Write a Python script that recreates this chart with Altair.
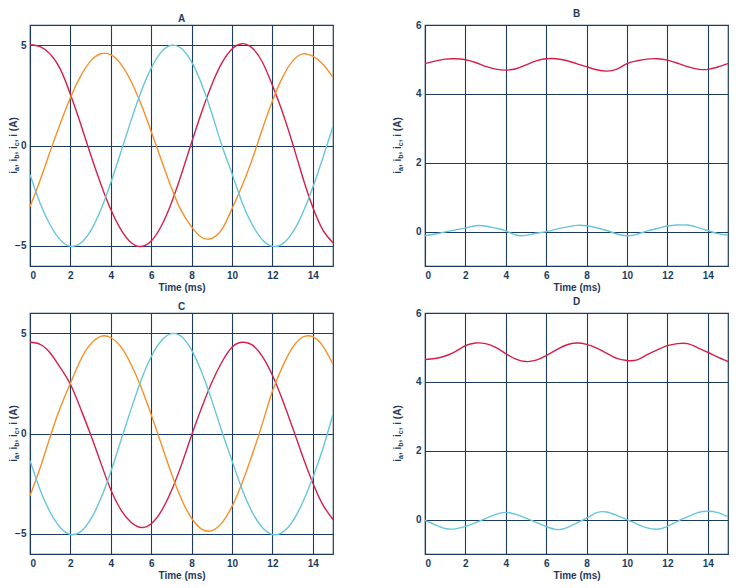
import altair as alt
import pandas as pd

# ---------------- data ----------------
time_ms = [0, 0.5, 1, 1.5, 2, 2.5, 3, 3.5, 4, 4.5, 5, 5.5, 6, 6.5, 7, 7.5,
           8, 8.5, 9, 9.5, 10, 10.5, 11, 11.5, 12, 12.5, 13, 13.5, 14, 14.5, 15]

a_ia = [5.02, 4.92, 4.55, 3.80, 2.55, 1.10, -0.45, -1.90, -3.19, -4.19, -4.83, -5.03, -4.76, -4.01, -2.86, -1.42,
        0.15, 1.67, 3.03, 4.11, 4.81, 5.07, 4.85, 4.16, 3.00, 1.66, 0.10, -1.58, -3.08, -4.21, -4.84]
a_ib = [-3.05, -1.73, -0.29, 1.10, 2.38, 3.44, 4.20, 4.57, 4.52, 4.05, 3.20, 2.05, 0.70, -0.72, -2.10, -3.27,
        -4.05, -4.58, -4.62, -4.18, -3.15, -2.00, -0.69, 0.81, 2.22, 3.39, 4.20, 4.56, 4.45, 4.05, 3.40]
a_ic = [-1.45, -2.87, -3.96, -4.70, -5.02, -4.87, -4.25, -3.21, -1.85, -0.32, 1.24, 2.68, 3.85, 4.65, 4.99, 4.83,
        4.16, 3.05, 1.61, 0.00, -1.40, -2.84, -3.94, -4.69, -5.02, -4.90, -4.33, -3.36, -2.08, -0.61, 0.95]

b_i = [4.88, 4.95, 5.01, 5.02, 4.99, 4.91, 4.80, 4.72, 4.69, 4.73, 4.84, 4.96, 5.02, 5.02, 4.97, 4.88,
       4.79, 4.70, 4.66, 4.72, 4.88, 4.96, 5.01, 5.02, 4.98, 4.89, 4.79, 4.72, 4.71, 4.78, 4.88]
b_sum = [-0.12, -0.07, -0.01, 0.05, 0.10, 0.17, 0.16, 0.10, 0.02, -0.10, -0.11, -0.05, 0.00, 0.07, 0.13, 0.18,
         0.17, 0.11, 0.03, -0.07, -0.12, -0.08, 0.02, 0.09, 0.16, 0.19, 0.19, 0.12, 0.03, -0.06, -0.10]

c_ia = [4.54, 4.44, 4.01, 3.28, 2.45, 1.25, -0.05, -1.45, -2.80, -3.80, -4.42, -4.68, -4.49, -3.86, -2.85, -1.55,
        -0.09, 1.29, 2.54, 3.56, 4.30, 4.54, 4.41, 3.84, 2.90, 1.67, 0.29, -1.14, -2.46, -3.55, -4.28]
c_ib = [-3.10, -1.72, -0.16, 1.29, 2.50, 3.65, 4.45, 4.84, 4.78, 4.31, 3.45, 2.30, 0.94, -0.52, -1.99, -3.27,
        -4.22, -4.76, -4.84, -4.45, -3.63, -2.46, -1.06, 0.48, 2.10, 3.33, 4.29, 4.80, 4.82, 4.35, 3.45]
c_ic = [-1.35, -2.80, -3.92, -4.68, -5.03, -4.90, -4.28, -3.25, -1.90, -0.35, 1.20, 2.65, 3.82, 4.62, 4.97, 4.83,
        4.15, 3.05, 1.65, 0.10, -1.35, -2.78, -3.92, -4.68, -5.03, -4.92, -4.38, -3.42, -2.20, -0.75, 0.95]

d_i = [4.65, 4.68, 4.75, 4.88, 5.05, 5.13, 5.11, 5.00, 4.82, 4.66, 4.59, 4.63, 4.76, 4.93, 5.07, 5.13,
       5.09, 4.98, 4.83, 4.68, 4.62, 4.64, 4.79, 4.93, 5.05, 5.11, 5.11, 4.99, 4.86, 4.72, 4.59]
d_sum = [-0.02, -0.15, -0.26, -0.27, -0.20, -0.09, 0.03, 0.15, 0.21, 0.15, 0.04, -0.08, -0.20, -0.29, -0.24, -0.10,
         0.04, 0.20, 0.22, 0.12, 0.00, -0.13, -0.24, -0.28, -0.20, -0.05, 0.08, 0.20, 0.24, 0.20, 0.08]

x_ticks = [0, 2, 4, 6, 8, 10, 12, 14]
y_ticks_ac = [-5, 0, 5]
y_ticks_bd = [0, 2, 4, 6]
series_names = ["ia", "ib", "ic"]

# ---------------- style ----------------
NAVY = "#1d3b5e"
RED = "#d2204a"
ORANGE = "#f6902a"
CYAN = "#66c6dc"
FONT = "Liberation Sans"
W, H = 303, 241

# y-axis title pieces: (text, is_subscript)
ytitle_pieces = [("i", False), ("a", True), (", i", False), ("b", True),
                 (", i", False), ("c", True), (", i (A)", False)]
CHAR_W = {"i": 0.278, "a": 0.556, "b": 0.611, "c": 0.556, ",": 0.278, " ": 0.278,
          "(": 0.333, ")": 0.333, "A": 0.722}
MAIN_FS, SUB_FS = 10, 7


def ytitle_layers(x_base):
    sizes = [(s, SUB_FS if sub else MAIN_FS, sub) for s, sub in ytitle_pieces]
    widths = [sum(CHAR_W[ch] for ch in s) * fs for s, fs, _ in sizes]
    total = sum(widths)
    y0 = H / 2 + total / 2
    layers = []
    off = 0.0
    for (s, fs, sub), w in zip(sizes, widths):
        layers.append(
            alt.Chart(alt.Data(values=[{"k": 0}])).mark_text(
                angle=270, align="left", baseline="alphabetic", dx=off, dy=2 if sub else 0,
                fontSize=fs, fontWeight="bold", font=FONT, color=NAVY
            ).encode(x=alt.value(x_base), y=alt.value(y0), text=alt.value(s))
        )
        off += w
    return layers


def panel(title, series, ydom, yticks, x_title_base):
    rows = []
    for n, vals in series:
        for t, v in zip(time_ms, vals):
            rows.append({"t": t, "v": v, "s": n})
    df = pd.DataFrame(rows)
    lines = alt.Chart(df).mark_line(strokeWidth=1.4, interpolate="natural", clip=True).encode(
        x=alt.X("t:Q", scale=alt.Scale(domain=[0, 15], nice=False, zero=False),
                axis=alt.Axis(values=x_ticks, title="Time (ms)", format="d")),
        y=alt.Y("v:Q", scale=alt.Scale(domain=ydom, nice=False, zero=False),
                axis=alt.Axis(values=yticks, title=None, format="d")),
        color=alt.Color("s:N", scale=alt.Scale(domain=series_names, range=[RED, ORANGE, CYAN]), legend=None),
    )
    return alt.layer(lines, *ytitle_layers(x_title_base)).properties(
        width=W, height=H,
        title=alt.TitleParams(title, fontSize=10, font=FONT, fontWeight="bold", color=NAVY, offset=1),
    )


pA = panel("A", [("ia", a_ia), ("ib", a_ib), ("ic", a_ic)], [-6, 6], y_ticks_ac, -13)
pB = panel("B", [("ia", b_i), ("ic", b_sum)], [-1, 6], y_ticks_bd, -24)
pC = panel("C", [("ia", c_ia), ("ib", c_ib), ("ic", c_ic)], [-6, 6], y_ticks_ac, -13)
pD = panel("D", [("ia", d_i), ("ic", d_sum)], [-1, 6], y_ticks_bd, -24)

chart = alt.vconcat(
    alt.hconcat(pA, pB, spacing=58),
    alt.hconcat(pC, pD, spacing=58),
    spacing=3,
).properties(
    padding={"left": 0, "top": 0, "right": 0, "bottom": 0},
    background="white",
).configure_view(
    stroke=NAVY, strokeWidth=1.2
).configure_axis(
    grid=True, gridColor=NAVY, gridWidth=1.1, gridOpacity=1,
    domain=False, ticks=False,
    labelFont=FONT, labelFontSize=10, labelFontWeight="bold", labelColor=NAVY, labelPadding=4,
    titleFont=FONT, titleFontSize=10, titleFontWeight="bold", titleColor=NAVY, titlePadding=2,
)

chart.save("out.html", embed_options={"renderer": "svg", "actions": False})
